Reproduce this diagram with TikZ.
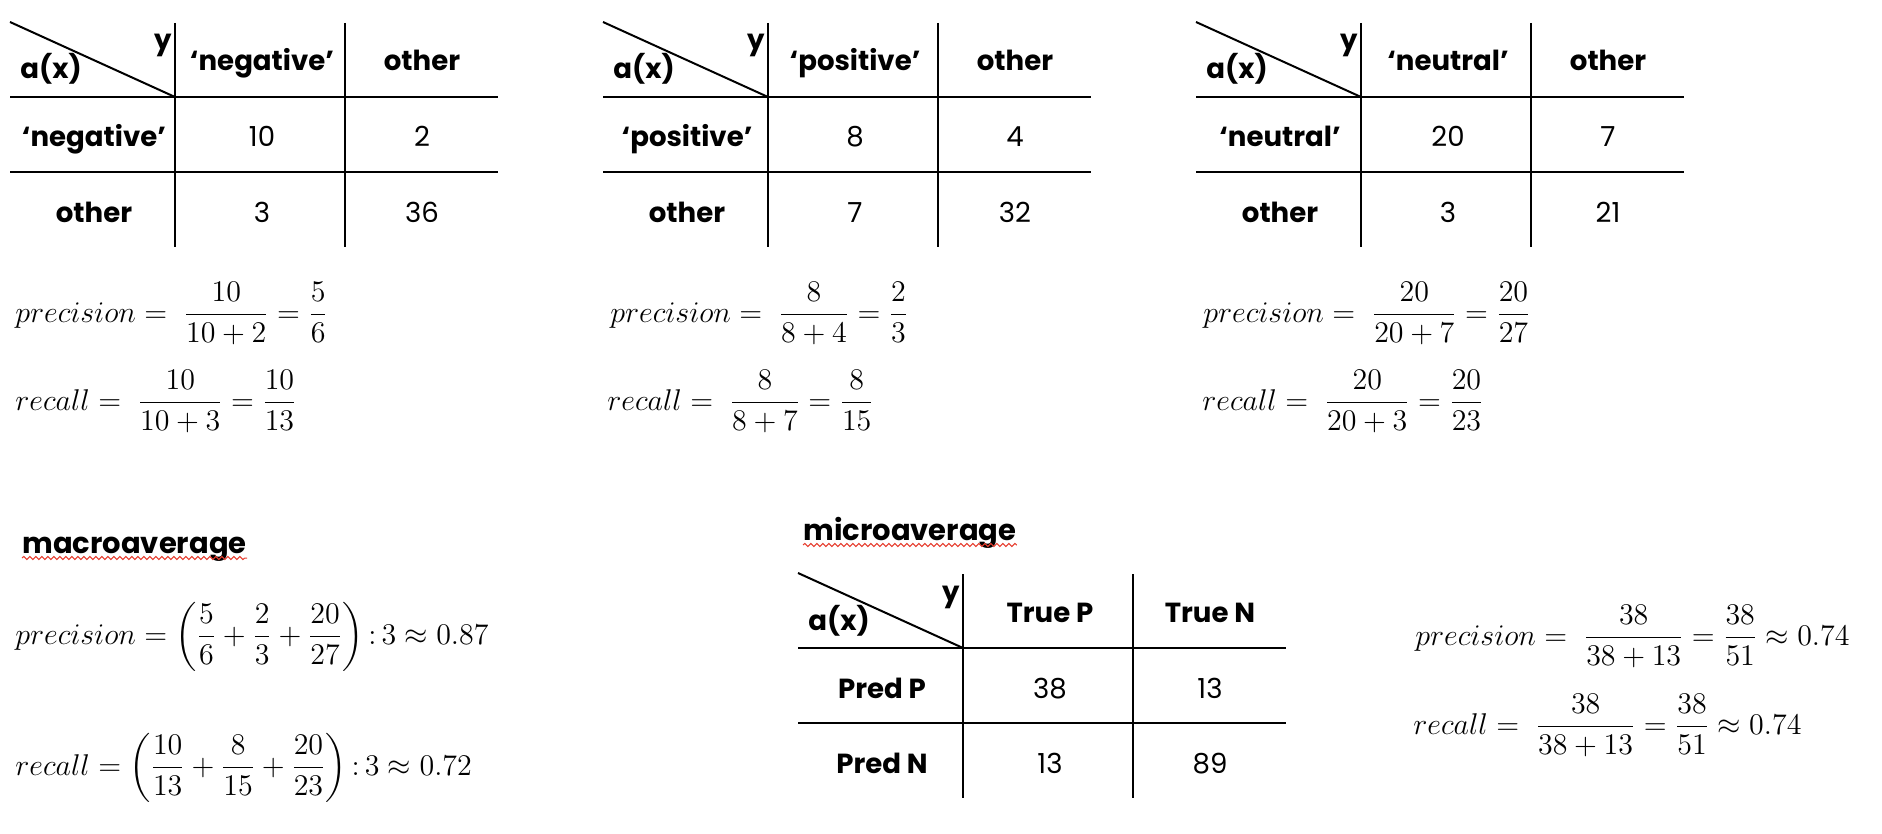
\RequirePackage{fix-cm}
\documentclass[tikz,border=0pt]{standalone}
\usepackage[no-math]{fontspec}
\setmainfont{Poppins}
\usepackage{amsmath}
\usetikzlibrary{decorations.pathmorphing}
\definecolor{spellred}{RGB}{230,60,45}

\begin{document}
\begin{tikzpicture}[x=0.5pt, y=-0.5pt]
\tikzset{grid/.style = {line width=1pt}}
\tikzset{head/.style = {font=\fontsize{13.8}{17}\selectfont\bfseries, inner sep=0pt, anchor=base}}
\tikzset{cell/.style = {font=\fontsize{13.8}{17}\selectfont, inner sep=0pt, anchor=base}}
\tikzset{formula/.style = {font=\fontsize{15}{18}\selectfont, inner sep=0pt, anchor=base west}}
\tikzset{title/.style = {font=\fontsize{14.5}{18}\selectfont\bfseries, inner sep=0pt, anchor=base west}}
\tikzset{squiggle/.style = {spellred, line width=0.5pt, decorate, decoration={snake, segment length=3pt, amplitude=0.8pt}}}
  \useasboundingbox (0,0) rectangle (1882,834);
  % confusion tables
  \foreach \x/\y/\id/\ca/\cb/\ra/\rb/\na/\nb/\nc/\nd in {
      10/22/neg/‘negative’/other/‘negative’/other/10/2/3/36,
      603/22/pos/‘positive’/other/‘positive’/other/8/4/7/32,
      1196/22/neu/‘neutral’/other/‘neutral’/other/20/7/3/21,
      798/573/mic/True P/True N/Pred P/Pred N/38/13/13/89}{
    \begin{scope}[shift={(\x,\y)}]
      \draw[grid] (0,0) -- (165,75);
      \draw[grid] (165,1) -- (165,225);
      \draw[grid] (335,1) -- (335,225);
      \draw[grid] (0,75) -- (488,75);
      \draw[grid] (0,150) -- (488,150);
      \node[head, anchor=base west] (\id-ax) at (10,57) {a(x)};
      \node[head, anchor=base east] (\id-y) at (162,28) {y};
      \node[head] (\id-c1) at (252,49) {\ca};
      \node[head] (\id-c2) at (412,49) {\cb};
      \node[head] (\id-r1) at (84,125) {\ra};
      \node[head] (\id-r2) at (84,200) {\rb};
      \node[cell] (\id-11) at (252,125) {\na};
      \node[cell] (\id-12) at (412,125) {\nb};
      \node[cell] (\id-21) at (252,200) {\nc};
      \node[cell] (\id-22) at (412,200) {\nd};
    \end{scope}
  }
  % per class
  \node[formula] (negprec) at (15,322) {$precision = \;\dfrac{10}{10+2} = \dfrac{5}{6}$};
  \node[formula] (negrec) at (15,410) {$recall = \;\dfrac{10}{10+3} = \dfrac{10}{13}$};
  \node[formula] (posprec) at (610,322) {$precision = \;\dfrac{8}{8+4} = \dfrac{2}{3}$};
  \node[formula] (posrec) at (607,410) {$recall = \;\dfrac{8}{8+7} = \dfrac{8}{15}$};
  \node[formula] (neuprec) at (1203,322) {$precision = \;\dfrac{20}{20+7} = \dfrac{20}{27}$};
  \node[formula] (neurec) at (1202,410) {$recall = \;\dfrac{20}{20+3} = \dfrac{20}{23}$};
  % macro
  \node[title] (macro) at (22,553) {macroaverage};
  \draw[squiggle] ([yshift=-2.5pt]macro.base west) -- ([yshift=-2.5pt]macro.base east);
  \node[formula] (macprec) at (15,644) {$precision = \left(\dfrac{5}{6}+\dfrac{2}{3}+\dfrac{20}{27}\right){:}\,3 \approx 0.87$};
  \node[formula] (macrec) at (15,775) {$recall = \left(\dfrac{10}{13}+\dfrac{8}{15}+\dfrac{20}{23}\right){:}\,3 \approx 0.72$};
  % micro
  \node[title] (micro) at (803,540) {microaverage};
  \draw[squiggle] ([yshift=-2.5pt]micro.base west) -- ([yshift=-2.5pt]micro.base east);
  \node[formula] (micprec) at (1415,645) {$precision = \;\dfrac{38}{38+13} = \dfrac{38}{51} \approx 0.74$};
  \node[formula] (micrec) at (1413,734) {$recall = \;\dfrac{38}{38+13} = \dfrac{38}{51} \approx 0.74$};
\end{tikzpicture}
\end{document}
